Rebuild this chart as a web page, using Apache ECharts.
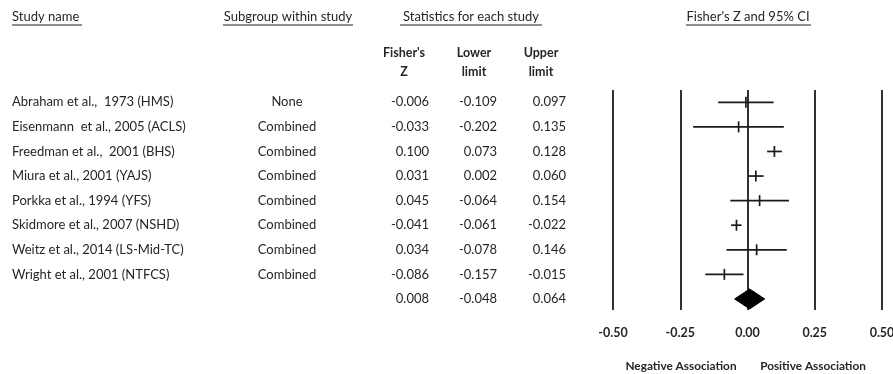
<!DOCTYPE html>
<html>
<head>
<meta charset="utf-8">
<script src="https://cdn.jsdelivr.net/npm/echarts@6/dist/echarts.min.js"></script>
<style>
  html, body { margin: 0; padding: 0; background: #fff; }
  #chart { width: 893px; height: 374px; }
</style>
</head>
<body>
<div id="chart"></div>
<script>
// Per-study effect sizes (Fisher's Z) with 95% confidence limits
const studies = [
  'Abraham et al.,  1973 (HMS)',
  'Eisenmann  et al., 2005 (ACLS)',
  'Freedman et al.,  2001 (BHS)',
  'Miura et al., 2001 (YAJS)',
  'Porkka et al., 1994 (YFS)',
  'Skidmore et al., 2007 (NSHD)',
  'Weitz et al., 2014 (LS-Mid-TC)',
  'Wright et al., 2001 (NTFCS)'
];
const subgroups = ['None', 'Combined', 'Combined', 'Combined', 'Combined', 'Combined', 'Combined', 'Combined'];
const fisherZ    = [-0.006, -0.033, 0.100, 0.031, 0.045, -0.041, 0.034, -0.086];
const lowerLimit = [-0.109, -0.202, 0.073, 0.002, -0.064, -0.061, -0.078, -0.157];
const upperLimit = [ 0.097,  0.135, 0.128, 0.060,  0.154, -0.022,  0.146, -0.015];

// Pooled estimate: Z, lower, upper
const pooled = [0.008, -0.048, 0.064];

// Effect axis ticks and the captions under it
const xTicks = [-0.5, -0.25, 0, 0.25, 0.5];
const axisCaptions = ['Negative Association', 'Positive Association'];

const FONT = 'Lato, "Open Sans", sans-serif';
const TEXT = '#262626';
const INK = '#1a1a1a';

const pooledRow = studies.length;
const fmt = v => v.toFixed(3);

// Table rows: name, subgroup, Z, lower, upper, row index
const tableRows = studies.map((s, i) => [s, subgroups[i], fmt(fisherZ[i]), fmt(lowerLimit[i]), fmt(upperLimit[i]), i]);
tableRows.push(['', '', fmt(pooled[0]), fmt(pooled[1]), fmt(pooled[2]), pooledRow]);

const ciRows = studies.map((s, i) => [fisherZ[i], lowerLimit[i], upperLimit[i], i]);

const chart = echarts.init(document.getElementById('chart'), null, { renderer: 'canvas' });

function txt(x, y, text, align, bold, size) {
  return {
    type: 'text',
    style: {
      x: x, y: y, text: text,
      fill: TEXT,
      font: (bold ? 'bold ' : '') + (size || 13) + 'px ' + FONT,
      textAlign: align,
      textVerticalAlign: 'middle'
    }
  };
}

function headerWithRule(x, align, text, x1, x2) {
  return [
    txt(x, 17, text, align, false, 13),
    { type: 'line', shape: { x1: x1, y1: 25, x2: x2, y2: 25 }, style: { stroke: '#6a6a6a', lineWidth: 1.3 } }
  ];
}

const headerGraphics = []
  .concat(headerWithRule(12, 'left', 'Study name', 12, 82))
  .concat(headerWithRule(288, 'center', 'Subgroup within study', 223, 353))
  .concat(headerWithRule(471, 'center', 'Statistics for each study', 400, 542))
  .concat(headerWithRule(748, 'center', "Fisher's Z and 95% CI", 686, 811))
  .concat([
    txt(404, 53, "Fisher's", 'center', true, 12.5),
    txt(404, 72, 'Z', 'center', true, 12.5),
    txt(474, 53, 'Lower', 'center', true, 12.5),
    txt(474, 72, 'limit', 'center', true, 12.5),
    txt(541, 53, 'Upper', 'center', true, 12.5),
    txt(541, 72, 'limit', 'center', true, 12.5),
    txt(681, 366, axisCaptions[0], 'center', true, 11.8),
    txt(813, 366, axisCaptions[1], 'center', true, 11.8)
  ]);

const option = {
  animation: false,
  backgroundColor: '#ffffff',
  grid: { left: 613, right: 11, top: 90, bottom: 64, containLabel: false, outerBoundsMode: 'none' },
  xAxis: {
    type: 'value',
    min: xTicks[0],
    max: xTicks[xTicks.length - 1],
    interval: 0.25,
    axisLine: { show: false },
    axisTick: { show: false },
    splitLine: { show: true, lineStyle: { color: INK, width: 1.8 } },
    axisLabel: {
      margin: 16,
      color: TEXT,
      fontFamily: FONT,
      fontWeight: 'bold',
      fontSize: 12.5,
      formatter: v => v.toFixed(2)
    }
  },
  yAxis: {
    type: 'value',
    inverse: true,
    min: -0.5,
    max: 8.45,
    show: false,
    splitLine: { show: false }
  },
  graphic: headerGraphics,
  series: [
    {
      // study table: name, subgroup and statistics columns
      type: 'custom',
      name: 'table',
      clip: false,
      silent: true,
      data: tableRows,
      renderItem: function (params, api) {
        const row = tableRows[params.dataIndex];
        const y = api.coord([0, row[5]])[1];
        return {
          type: 'group',
          children: [
            txt(12, y, row[0], 'left', false, 13),
            txt(287, y, row[1], 'center', false, 13),
            txt(429, y, row[2], 'right', false, 13),
            txt(497, y, row[3], 'right', false, 13),
            txt(566, y, row[4], 'right', false, 13)
          ]
        };
      }
    },
    {
      // confidence interval line with a tick at the point estimate
      type: 'custom',
      name: 'ci',
      clip: false,
      silent: true,
      data: ciRows,
      encode: { x: [0, 1, 2], y: 3 },
      renderItem: function (params, api) {
        const r = api.value(3);
        const pz = api.coord([api.value(0), r]);
        const pl = api.coord([api.value(1), r]);
        const pu = api.coord([api.value(2), r]);
        const st = { stroke: INK, lineWidth: 1.7 };
        return {
          type: 'group',
          children: [
            { type: 'line', shape: { x1: pl[0], y1: pl[1], x2: pu[0], y2: pu[1] }, style: st },
            { type: 'line', shape: { x1: pz[0], y1: pz[1] - 5.5, x2: pz[0], y2: pz[1] + 5.5 }, style: st }
          ]
        };
      }
    },
    {
      // pooled estimate diamond
      type: 'custom',
      name: 'pooled',
      clip: false,
      silent: true,
      data: [[pooled[0], pooled[1], pooled[2], pooledRow]],
      encode: { x: [0, 1, 2], y: 3 },
      renderItem: function (params, api) {
        const r = api.value(3);
        const pz = api.coord([api.value(0), r]);
        const pl = api.coord([api.value(1), r]);
        const pu = api.coord([api.value(2), r]);
        const h = 10;
        return {
          type: 'polygon',
          shape: { points: [[pl[0], pl[1]], [pz[0], pz[1] - h], [pu[0], pu[1]], [pz[0], pz[1] + h]] },
          style: { fill: '#000', stroke: '#000', lineWidth: 1 }
        };
      }
    }
  ]
};

chart.setOption(option);
</script>
</body>
</html>
